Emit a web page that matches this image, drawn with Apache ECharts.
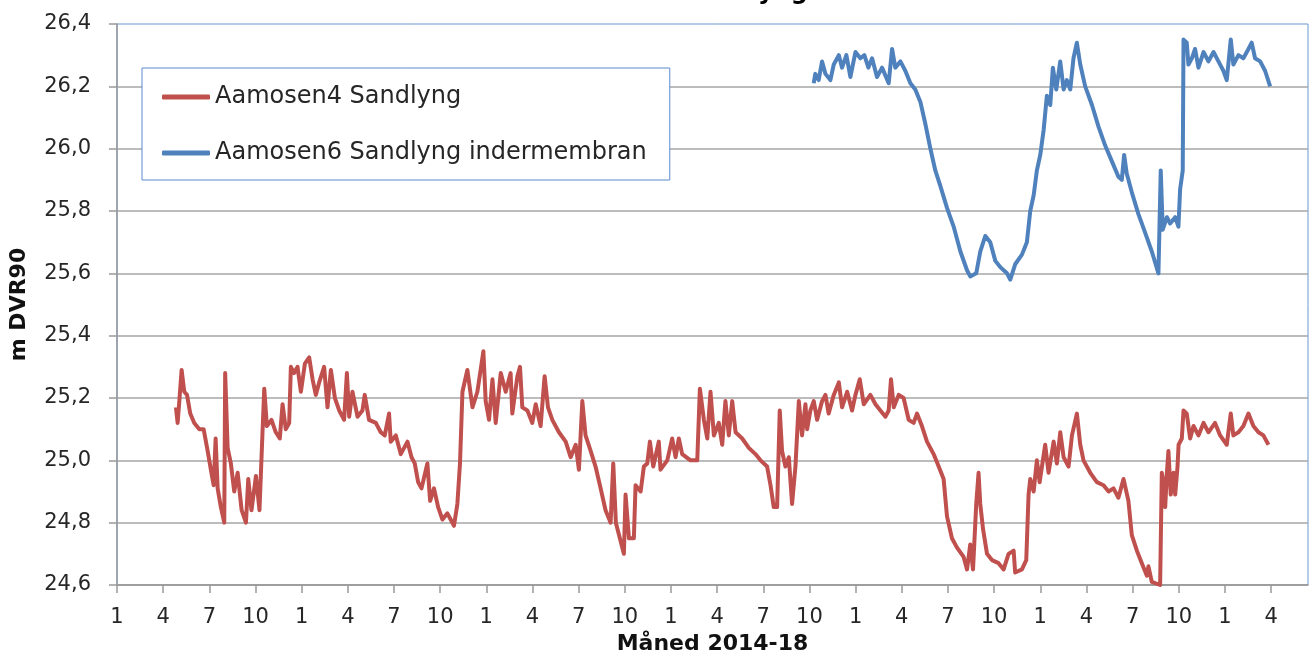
<!DOCTYPE html>
<html>
<head>
<meta charset="utf-8">
<title>Aamosen Sandlyng</title>
<script src="https://cdn.jsdelivr.net/npm/echarts@6/dist/echarts.min.js"></script>
<style>
  html, body { margin: 0; padding: 0; background: #fff; }
  #chart { width: 1315px; height: 660px; }
</style>
</head>
<body>
<div id="chart"></div>
<script>
// months counted from Jan 2014 (0 = Jan 2014), levels in m DVR90
const redName = 'Aamosen4 Sandlyng';
const redMonths = [
  3.83, 3.94, 4.05, 4.20, 4.37, 4.55, 4.76, 5.02, 5.35, 5.63, 5.89, 6.10, 6.28, 6.41, 6.54, 6.75, 6.97, 7.03, 7.19, 7.40,
  7.62, 7.84, 8.10, 8.38, 8.53, 8.74, 9.03, 9.26, 9.44, 9.57, 9.74, 10.04, 10.32, 10.58, 10.76, 10.97, 11.19, 11.30, 11.51, 11.73,
  11.95, 12.21, 12.49, 12.71, 12.92, 13.14, 13.46, 13.68, 13.90, 14.16, 14.44, 14.76, 14.94, 15.09, 15.30, 15.63, 15.95, 16.10, 16.38, 16.82,
  17.14, 17.40, 17.68, 17.79, 18.12, 18.44, 18.88, 19.14, 19.35, 19.57, 19.79, 20.17, 20.35, 20.60, 20.87, 21.15, 21.47, 21.90, 22.12, 22.29,
  22.45, 22.77, 23.10, 23.42, 23.81, 23.96, 24.18, 24.40, 24.61, 24.94, 25.26, 25.58, 25.69, 26.02, 26.19, 26.34, 26.67, 26.99, 27.21, 27.53,
  27.79, 28.01, 28.29, 28.72, 29.16, 29.48, 29.81, 30.02, 30.24, 30.45, 30.78, 31.10, 31.43, 31.75, 32.08, 32.25, 32.42, 32.73, 32.94, 33.05,
  33.27, 33.59, 33.70, 34.03, 34.24, 34.46, 34.63, 34.85, 35.21, 35.32, 35.76, 36.08, 36.30, 36.51, 36.73, 37.27, 37.71, 37.88, 38.14, 38.36,
  38.57, 38.79, 39.11, 39.33, 39.54, 39.76, 39.98, 40.20, 40.63, 41.06, 41.49, 41.82, 42.25, 42.47, 42.68, 42.90, 43.07, 43.22, 43.44, 43.66,
  43.87, 44.09, 44.31, 44.52, 44.74, 44.85, 45.06, 45.28, 45.50, 45.82, 46.04, 46.25, 46.58, 46.91, 47.12, 47.45, 47.77, 47.99, 48.27, 48.53,
  48.96, 49.29, 49.61, 49.94, 50.15, 50.30, 50.48, 50.80, 51.12, 51.45, 51.77, 51.99, 52.31, 52.64, 53.07, 53.40, 53.72, 53.94, 54.26, 54.59,
  55.02, 55.24, 55.45, 55.63, 55.84, 55.99, 56.10, 56.28, 56.54, 56.86, 57.29, 57.62, 57.94, 58.27, 58.37, 58.81, 59.09, 59.24, 59.35, 59.57,
  59.78, 59.96, 60.32, 60.54, 60.87, 61.08, 61.30, 61.52, 61.84, 62.06, 62.38, 62.60, 62.81, 63.25, 63.68, 64.11, 64.44, 64.76, 65.08, 65.41,
  65.73, 65.95, 66.28, 66.60, 66.93, 67.03, 67.25, 67.79, 67.90, 68.01, 68.12, 68.23, 68.33, 68.48, 68.66, 68.77, 68.92, 68.99, 69.20, 69.31,
  69.52, 69.74, 69.96, 70.28, 70.61, 70.93, 71.36, 71.69, 72.12, 72.38, 72.55, 72.88, 73.20, 73.53, 73.85, 74.18, 74.50, 74.83
];
const redLevels = [
  25.17, 25.12, 25.19, 25.29, 25.22, 25.21, 25.15, 25.12, 25.10, 25.10, 25.03, 24.97, 24.92, 25.07, 24.91, 24.85, 24.80, 25.28, 25.04, 24.99,
  24.90, 24.96, 24.84, 24.80, 24.94, 24.84, 24.95, 24.84, 25.07, 25.23, 25.11, 25.13, 25.09, 25.07, 25.18, 25.10, 25.12, 25.30, 25.28, 25.30,
  25.22, 25.31, 25.33, 25.26, 25.21, 25.25, 25.30, 25.17, 25.29, 25.20, 25.16, 25.13, 25.28, 25.14, 25.22, 25.14, 25.16, 25.21, 25.13, 25.12,
  25.09, 25.08, 25.15, 25.06, 25.08, 25.02, 25.06, 25.01, 24.99, 24.93, 24.91, 24.99, 24.87, 24.91, 24.85, 24.81, 24.83, 24.79, 24.86, 24.99,
  25.22, 25.29, 25.17, 25.22, 25.35, 25.19, 25.13, 25.26, 25.12, 25.28, 25.22, 25.28, 25.15, 25.27, 25.30, 25.17, 25.16, 25.12, 25.18, 25.11,
  25.27, 25.17, 25.13, 25.09, 25.06, 25.01, 25.05, 24.97, 25.19, 25.08, 25.03, 24.98, 24.91, 24.84, 24.80, 24.99, 24.80, 24.74, 24.70, 24.89,
  24.75, 24.75, 24.92, 24.90, 24.98, 24.99, 25.06, 24.98, 25.06, 24.97, 25.00, 25.07, 25.01, 25.07, 25.02, 25.00, 25.00, 25.23, 25.13, 25.07,
  25.22, 25.08, 25.12, 25.05, 25.19, 25.08, 25.19, 25.09, 25.07, 25.04, 25.02, 25.00, 24.98, 24.92, 24.85, 24.85, 25.16, 25.03, 24.98, 25.01,
  24.86, 24.98, 25.19, 25.08, 25.18, 25.10, 25.16, 25.19, 25.13, 25.19, 25.21, 25.15, 25.21, 25.25, 25.17, 25.22, 25.16, 25.21, 25.26, 25.18,
  25.21, 25.18, 25.16, 25.14, 25.16, 25.26, 25.17, 25.21, 25.20, 25.13, 25.12, 25.15, 25.11, 25.06, 25.02, 24.98, 24.94, 24.82, 24.75, 24.72,
  24.69, 24.65, 24.73, 24.65, 24.86, 24.96, 24.86, 24.78, 24.70, 24.68, 24.67, 24.65, 24.70, 24.71, 24.64, 24.65, 24.68, 24.89, 24.94, 24.90,
  25.00, 24.93, 25.05, 24.96, 25.06, 24.99, 25.09, 25.01, 24.98, 25.08, 25.15, 25.05, 25.00, 24.96, 24.93, 24.92, 24.90, 24.91, 24.88, 24.94,
  24.87, 24.76, 24.71, 24.67, 24.63, 24.66, 24.61, 24.60, 24.96, 24.93, 24.85, 24.96, 25.03, 24.89, 24.96, 24.89, 24.98, 25.05, 25.07, 25.16,
  25.15, 25.07, 25.11, 25.08, 25.12, 25.09, 25.12, 25.08, 25.05, 25.15, 25.08, 25.09, 25.11, 25.15, 25.11, 25.09, 25.08, 25.05
];

const blueName = 'Aamosen6 Sandlyng indermembran';
const blueMonths = [
  45.28, 45.38, 45.60, 45.82, 46.04, 46.36, 46.58, 46.91, 47.12, 47.40, 47.66, 47.99, 48.31, 48.57, 48.83, 49.07, 49.39, 49.72, 50.15, 50.37,
  50.58, 50.91, 51.23, 51.56, 51.88, 52.21, 52.53, 52.86, 53.18, 53.51, 53.94, 54.37, 54.81, 55.24, 55.45, 55.84, 56.10, 56.43, 56.75, 57.08,
  57.40, 57.84, 58.05, 58.38, 58.81, 59.13, 59.35, 59.57, 59.78, 60.00, 60.22, 60.43, 60.65, 60.82, 61.04, 61.30, 61.52, 61.73, 61.95, 62.16,
  62.38, 62.60, 62.92, 63.36, 63.79, 64.22, 64.65, 65.08, 65.30, 65.45, 65.62, 65.95, 66.38, 66.82, 67.25, 67.68, 67.83, 67.96, 68.23, 68.44,
  68.77, 68.98, 69.09, 69.26, 69.31, 69.52, 69.63, 69.85, 70.06, 70.28, 70.61, 70.93, 71.26, 71.58, 71.90, 72.12, 72.38, 72.55, 72.88, 73.20,
  73.53, 73.74, 73.96, 74.29, 74.61, 74.94
];
const blueLevels = [
  26.21, 26.24, 26.22, 26.28, 26.24, 26.22, 26.27, 26.30, 26.26, 26.30, 26.23, 26.31, 26.29, 26.30, 26.26, 26.29, 26.23, 26.26, 26.21, 26.32,
  26.26, 26.28, 26.25, 26.21, 26.19, 26.15, 26.08, 26.00, 25.93, 25.88, 25.81, 25.75, 25.67, 25.61, 25.59, 25.60, 25.67, 25.72, 25.70, 25.64,
  25.62, 25.60, 25.58, 25.63, 25.66, 25.70, 25.80, 25.85, 25.93, 25.98, 26.06, 26.17, 26.14, 26.26, 26.19, 26.28, 26.19, 26.22, 26.19, 26.29,
  26.34, 26.27, 26.20, 26.14, 26.07, 26.01, 25.96, 25.91, 25.90, 25.98, 25.92, 25.86, 25.79, 25.73, 25.67, 25.60, 25.93, 25.74, 25.78, 25.76,
  25.78, 25.75, 25.87, 25.93, 26.35, 26.34, 26.27, 26.29, 26.32, 26.26, 26.31, 26.28, 26.31, 26.28, 26.25, 26.22, 26.35, 26.27, 26.30, 26.29,
  26.32, 26.34, 26.29, 26.28, 26.25, 26.20
];

// quarterly ticks: Jan 2014 .. Apr 2020
const tickMonths = [0, 3, 6, 9, 12, 15, 18, 21, 24, 27, 30, 33, 36, 39, 42, 45, 48, 51, 54, 57, 60, 63, 66, 69, 72, 75];
const yTickStep = 0.2;

const font = 'DejaVu Sans';
const chart = echarts.init(document.getElementById('chart'));

const option = {
  backgroundColor: '#fff',
  animation: false,
  title: {
    text: 'Aamosen Sandlyng',
    right: 507,
    top: -19,
    padding: 0,
    textStyle: { fontFamily: font, fontSize: 24, fontWeight: 'bold', color: '#000' }
  },
  legend: {
    orient: 'vertical',
    left: 142,
    top: 68,
    padding: [16, 23, 14, 20],
    itemGap: 30,
    itemWidth: 48,
    itemHeight: 5,
    icon: 'roundRect',
    backgroundColor: '#fff',
    borderColor: '#5b8ccf',
    borderWidth: 1,
    borderRadius: 0,
    textStyle: { fontFamily: font, fontSize: 24, lineHeight: 26, color: '#262626' },
    data: [redName, blueName]
  },
  grid: {
    left: 116,
    right: 7,
    top: 24,
    bottom: 75,
    show: true,
    borderColor: '#6b98d2',
    borderWidth: 1
  },
  xAxis: {
    type: 'value',
    min: 0,
    max: 77.4,
    interval: 3,
    name: 'Måned 2014-18',
    nameLocation: 'middle',
    nameGap: 46,
    nameTextStyle: { fontFamily: font, fontSize: 22, fontWeight: 'bold', color: '#111' },
    axisLine: { show: true, lineStyle: { color: '#999', width: 1.5 } },
    axisTick: { show: true, length: 8, customValues: tickMonths, lineStyle: { color: '#999', width: 1.5 } },
    axisLabel: {
      margin: 22,
      fontFamily: font,
      fontSize: 21,
      color: '#262626',
      customValues: tickMonths,
      formatter: v => String((Math.round(v) % 12) + 1)
    },
    splitLine: { show: false }
  },
  yAxis: {
    type: 'value',
    min: 24.6,
    max: 26.4,
    interval: yTickStep,
    name: 'm DVR90',
    nameLocation: 'middle',
    nameGap: 87,
    nameTextStyle: { fontFamily: font, fontSize: 22, fontWeight: 'bold', color: '#111' },
    axisLine: { show: true, lineStyle: { color: '#999', width: 1.5 } },
    axisTick: { show: true, length: 8, lineStyle: { color: '#999', width: 1.5 } },
    axisLabel: {
      margin: 26,
      fontFamily: font,
      fontSize: 21,
      color: '#262626',
      formatter: v => v.toFixed(1).replace('.', ',')
    },
    splitLine: { show: true, showMaxLine: false, lineStyle: { color: '#a6a6a6', width: 1.5 } }
  },
  series: [
    {
      name: redName,
      type: 'line',
      showSymbol: false,
      symbol: 'none',
      color: '#c0504d',
      lineStyle: { width: 4, color: '#c0504d', join: 'round' },
      data: redMonths.map((m, i) => [m, redLevels[i]])
    },
    {
      name: blueName,
      type: 'line',
      showSymbol: false,
      symbol: 'none',
      color: '#4f81bd',
      lineStyle: { width: 4, color: '#4f81bd', join: 'round' },
      data: blueMonths.map((m, i) => [m, blueLevels[i]])
    }
  ]
};

chart.setOption(option);
</script>
</body>
</html>
